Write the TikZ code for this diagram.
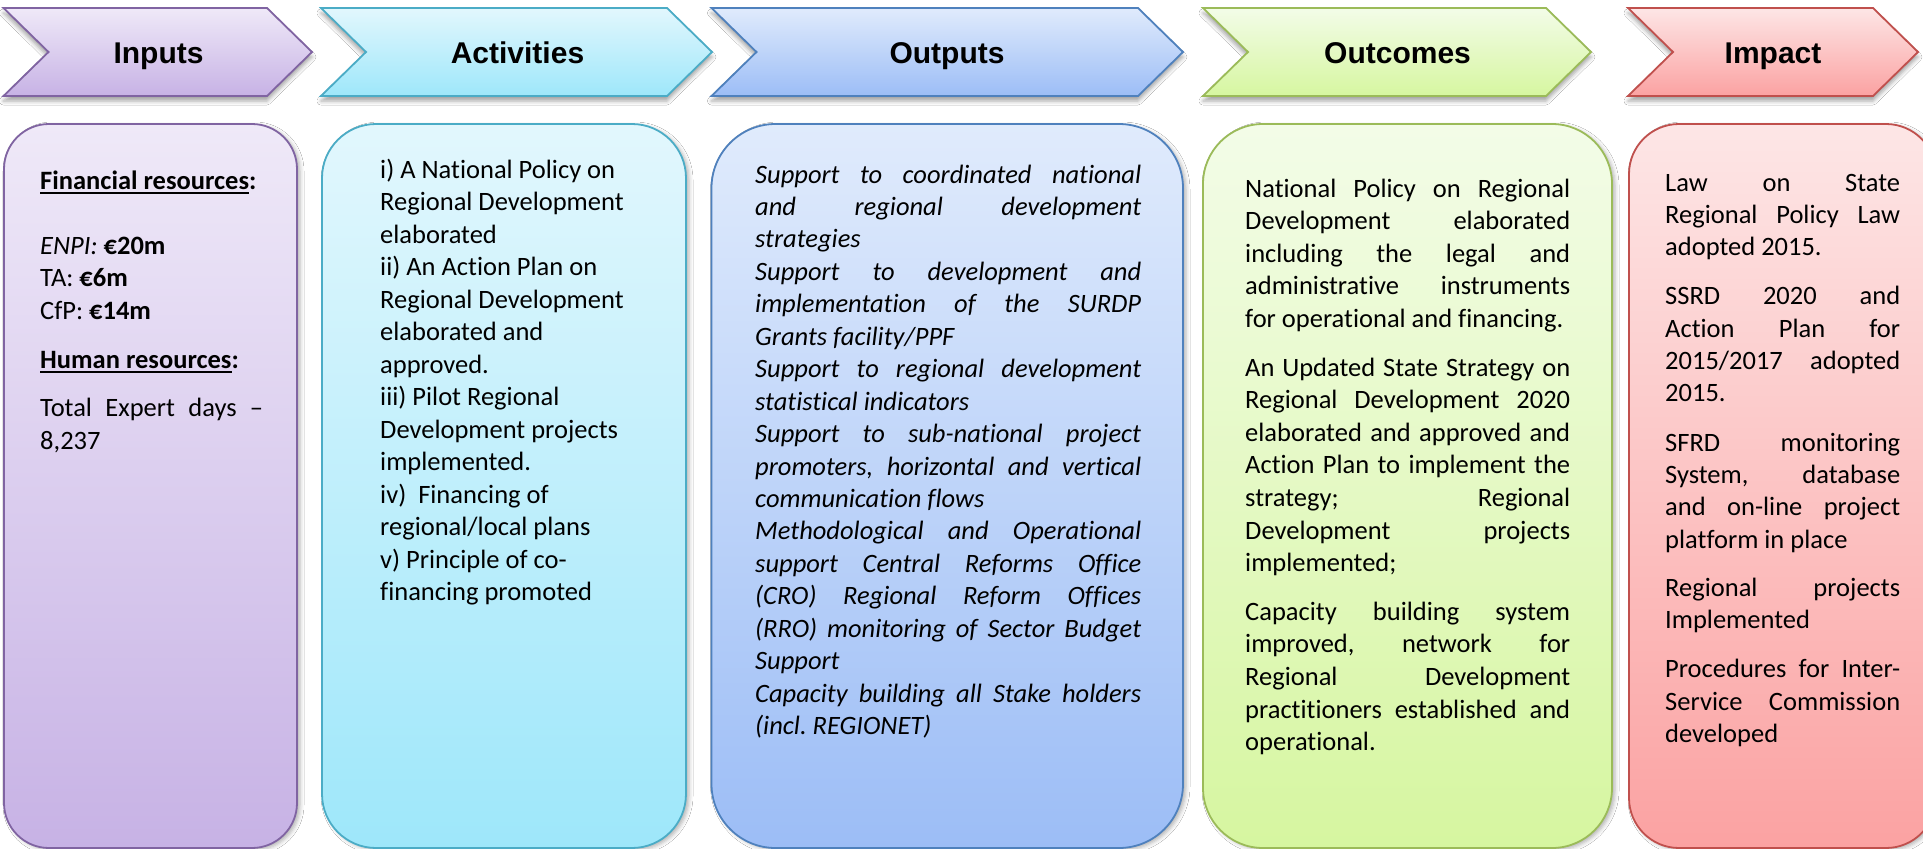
\documentclass[tikz,border=0pt]{standalone}
\usepackage{fontspec}
\setmainfont{Carlito}[Ligatures={NoCommon,NoContextual}]
\newfontfamily\titlefont{Liberation Sans}
\usetikzlibrary{shadows.blur}

% stage colours: light top, deeper bottom, border
\definecolor{inT}{HTML}{EFE9F8}\definecolor{inB}{HTML}{C7B2E5}\definecolor{inD}{HTML}{8064A2}
\definecolor{acT}{HTML}{E2F7FD}\definecolor{acB}{HTML}{9EE7FA}\definecolor{acD}{HTML}{4BACC6}
\definecolor{ouT}{HTML}{E0EBFC}\definecolor{ouB}{HTML}{9CBDF6}\definecolor{ouD}{HTML}{4F81BD}
\definecolor{ocT}{HTML}{F3FCE8}\definecolor{ocB}{HTML}{D6F6A0}\definecolor{ocD}{HTML}{9BBB59}
\definecolor{imT}{HTML}{FDE6E6}\definecolor{imB}{HTML}{FBA2A2}\definecolor{imD}{HTML}{C0504D}

% one line of text: ragged or stretched to the full measure
\newcommand\lft[1]{\hbox to\hsize{#1\hfil}}
\newcommand\jst[1]{\hbox to\hsize{\spaceskip=\fontdimen2\font plus 1fil minus \fontdimen4\font\relax #1}}
\newcommand\ulword[1]{\setbox0\hbox{#1}\rlap{\vrule width\wd0 height -3pt depth 5pt}\box0}
% chevron outline from left edge to tip
\newcommand\chevpath[2]{(#1,8) -- (#2-45,8) -- (#2,52) -- (#2-45,96) -- (#1,96) -- (#1+45,52) -- cycle}

\begin{document}
\begin{tikzpicture}[x=1pt,y=-1pt,
  chev/.style={line width=1.8pt, line join=miter,
    blur shadow={shadow xshift=0pt, shadow yshift=-5pt, shadow blur radius=4pt, shadow opacity=35}},
  panel/.style={line width=1.8pt,
    blur shadow={shadow xshift=3pt, shadow yshift=-2pt, shadow blur radius=4pt, shadow opacity=30}},
  title/.style={font=\titlefont\bfseries\fontsize{30}{36}\selectfont, anchor=base, inner sep=0pt},
  body/.style={anchor=base west, inner sep=0pt, font=\fontsize{26.5}{32.5}\selectfont}]
\useasboundingbox (0,0) rectangle (1923,849);
\clip (0,0) rectangle (1923,849);
\fill[white] (0,0) rectangle (1923,849);

% header chevrons
\path[chev, draw=inD, top color=inT, bottom color=inB] \chevpath{3.5}{312};
\path[chev, draw=acD, top color=acT, bottom color=acB] \chevpath{321}{712};
\path[chev, draw=ouD, top color=ouT, bottom color=ouB] \chevpath{711.5}{1183};
\path[chev, draw=ocD, top color=ocT, bottom color=ocB] \chevpath{1203}{1591};
\path[chev, draw=imD, top color=imT, bottom color=imB] \chevpath{1628}{1918};

\node[title] (tIn)  at (158.5,63) {Inputs};
\node[title] (tAc)  at (517.5,63) {Activities};
\node[title] (tOu)  at (947,63)   {Outputs};
\node[title] (tOc)  at (1397.5,63){Outcomes};
\node[title] (tIm)  at (1773,63)  {Impact};

% content panels
\path[panel, draw=inD, top color=inT, bottom color=inB, rounded corners=45pt] (4,124) rectangle (297,848);
\path[panel, draw=acD, top color=acT, bottom color=acB, rounded corners=54pt] (322,124) rectangle (686,848);
\path[panel, draw=ouD, top color=ouT, bottom color=ouB, rounded corners=64pt] (711.5,124) rectangle (1183,848);
\path[panel, draw=ocD, top color=ocT, bottom color=ocB, rounded corners=60pt] (1203,124) rectangle (1612,848);
\path[panel, draw=imD, top color=imT, bottom color=imB, rounded corners=50pt] (1629,124) rectangle (1936,848);

% Inputs
\node[body] (bIn) at (40,189) {\vtop{\hsize=223pt\parindent0pt\baselineskip32.5pt\lineskiplimit-100pt\frenchspacing
\lft{\textbf{\ulword{Financial resources}:}}
\lft{}
\lft{\textit{ENPI:} \textbf{€20m}}
\lft{TA: \textbf{€6m}}
\lft{CfP: \textbf{€14m}}
\vskip16.5pt
\lft{\textbf{\ulword{Human resources}:}}
\vskip16pt
\jst{Total Expert days –}
\lft{8,237}}};

% Activities
\node[body] (bAc) at (380,178) {\vtop{\hsize=300pt\parindent0pt\baselineskip32.5pt\lineskiplimit-100pt\frenchspacing
\lft{i) A National Policy on}
\lft{Regional Development}
\lft{elaborated}
\lft{ii) An Action Plan on}
\lft{Regional Development}
\lft{elaborated and}
\lft{approved.}
\lft{iii) Pilot Regional}
\lft{Development projects}
\lft{implemented.}
\lft{iv)\ \ Financing of}
\lft{regional/local plans}
\lft{v) Principle of co-}
\lft{financing promoted}}};

% Outputs
\node[body] (bOu) at (755,183) {\vtop{\hsize=386pt\parindent0pt\baselineskip32.45pt\lineskiplimit-100pt\frenchspacing\itshape
\jst{Support to coordinated national}
\jst{and regional development}
\lft{strategies}
\jst{Support to development and}
\jst{implementation of the SURDP}
\lft{Grants facility/PPF}
\jst{Support to regional development}
\lft{statistical indicators}
\jst{Support to sub-national project}
\jst{promoters, horizontal and vertical}
\lft{communication flows}
\jst{Methodological and Operational}
\jst{support Central Reforms Office}
\jst{(CRO) Regional Reform Offices}
\jst{(RRO) monitoring of Sector Budget}
\lft{Support}
\jst{Capacity building all Stake holders}
\lft{(incl. REGIONET)}}};

% Outcomes
\node[body] (bOc) at (1245,197) {\vtop{\hsize=325pt\parindent0pt\baselineskip32.6pt\lineskiplimit-100pt\frenchspacing
\jst{National Policy on Regional}
\jst{Development elaborated}
\jst{including the legal and}
\jst{administrative instruments}
\lft{for operational and financing.}
\vskip16pt
\jst{An Updated State Strategy on}
\jst{Regional Development 2020}
\jst{elaborated and approved and}
\jst{Action Plan to implement the}
\jst{strategy; Regional}
\jst{Development projects}
\lft{implemented;}
\vskip16pt
\jst{Capacity building system}
\jst{improved, network for}
\jst{Regional Development}
\jst{practitioners established and}
\lft{operational.}}};

% Impact
\node[body] (bIm) at (1665,191) {\vtop{\hsize=235pt\parindent0pt\baselineskip32.3pt\lineskiplimit-100pt\frenchspacing
\jst{Law on State}
\jst{Regional Policy Law}
\lft{adopted 2015.}
\vskip17pt
\jst{SSRD 2020 and}
\jst{Action Plan for}
\jst{2015/2017 adopted}
\lft{2015.}
\vskip17pt
\jst{SFRD monitoring}
\jst{System, database}
\jst{and on-line project}
\lft{platform in place}
\vskip16pt
\jst{Regional projects}
\lft{Implemented}
\vskip17pt
\jst{Procedures for Inter-}
\jst{Service Commission}
\lft{developed}}};
\end{tikzpicture}
\end{document}
